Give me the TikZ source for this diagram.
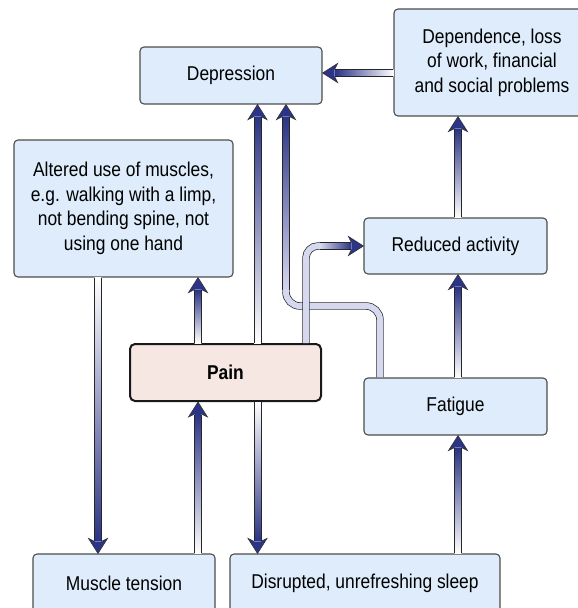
\documentclass[tikz,border=0pt]{standalone}
\usepackage{fontspec}
\setmainfont{Liberation Sans}[FakeStretch=0.87]
\usetikzlibrary{calc}
\definecolor{arrdark}{HTML}{2B3486}
\definecolor{arrpale}{HTML}{D6D8F0}
\definecolor{boxfill}{HTML}{DEECFB}
\definecolor{boxline}{HTML}{4D4D4D}
\definecolor{painfill}{HTML}{F6E7E3}

% half width of the arrow shafts
\newcommand{\hw}{3.4}
\tikzset{
  shaftline/.style={draw=black!85, line width=0.7pt},
  headline/.style={draw=black!80, line width=0.6pt, line join=miter},
  bentshaft/.style={draw=black!85, line width=0.7pt, double=arrpale, double distance=6pt, rounded corners=14pt}
}
\newcommand{\fathead}[2]{% rotation, tip
  \fill[arrdark, shift={(#2)}, rotate=#1] (0,0) -- (-9.5,15) -- (-\hw,12) -- (\hw,12) -- (9.5,15) -- cycle;
  \draw[headline, shift={(#2)}, rotate=#1] (-\hw,12) -- (-9.5,15) -- (0,0) -- (9.5,15) -- (\hw,12);}
\newcommand{\uparr}[2]{% tail below, tip above
  \shade[top color=arrdark, bottom color=white] ($(#1)+(-\hw,0)$) rectangle ($(#2)+(\hw,12.5)$);
  \draw[shaftline] ($(#1)+(-\hw,0)$) -- ($(#2)+(-\hw,12.5)$) ($(#1)+(\hw,0)$) -- ($(#2)+(\hw,12.5)$);
  \fathead{0}{#2}}
\newcommand{\downarr}[2]{% tail above, tip below
  \shade[top color=white, bottom color=arrdark] ($(#1)+(-\hw,0)$) rectangle ($(#2)+(\hw,-12.5)$);
  \draw[shaftline] ($(#1)+(-\hw,0)$) -- ($(#2)+(-\hw,-12.5)$) ($(#1)+(\hw,0)$) -- ($(#2)+(\hw,-12.5)$);
  \fathead{180}{#2}}
\newcommand{\leftarr}[2]{% tail right, tip left
  \shade[left color=arrdark, right color=white] ($(#2)+(12.5,-\hw)$) rectangle ($(#1)+(0,\hw)$);
  \draw[shaftline] ($(#2)+(12.5,-\hw)$) -- ($(#1)+(0,-\hw)$) ($(#2)+(12.5,\hw)$) -- ($(#1)+(0,\hw)$);
  \fathead{90}{#2}}

\begin{document}
\begin{tikzpicture}[
  x=1pt, y=-1pt,
  box/.style={draw=boxline, line width=1.1pt, fill=boxfill, rounded corners=4pt, align=center,
    inner sep=0pt, font=\fontsize{20}{24.5}\selectfont},
  painbox/.style={box, draw=black!90, line width=2pt, fill=painfill, rounded corners=5pt,
    font=\fontsize{20}{24.5}\selectfont\bfseries}
]
\useasboundingbox (0,0) rectangle (578,608);
\clip (0,0) rectangle (578,608);
% boxes
\node[box, minimum width=182pt, minimum height=57pt] (dep) at (231,75.5) {Depression};
\node[box, minimum width=196pt, minimum height=107pt] (depend) at (492,62.5) {Dependence, loss\\of work, financial\\and social problems};
\node[box, minimum width=219pt, minimum height=137pt] (alt) at (123.5,208.5) {Altered use of muscles,\\e.g. walking with a limp,\\not bending spine, not\\using one hand};
\node[box, minimum width=183pt, minimum height=56pt] (red) at (455.5,246) {Reduced activity};
\node[painbox, minimum width=191pt, minimum height=57pt] (pain) at (225.5,372.5) {Pain};
\node[box, minimum width=183pt, minimum height=57pt] (fat) at (455.5,406.5) {Fatigue};
\node[box, minimum width=182pt, minimum height=58pt] (mus) at (124,583) {Muscle tension};
\node[box, minimum width=270pt, minimum height=58pt] (sleep) at (365,583) {Disrupted, unrefreshing sleep};
% arrow columns and rows
\coordinate (cA) at (98,0);
\coordinate (cB) at (198,0);
\coordinate (cC) at (257.5,0);
\coordinate (cD) at (286,0);
\coordinate (cE) at (306,0);
\coordinate (cG) at (380,0);
\coordinate (cF) at (458,0);
\coordinate (rA) at (0,73);
\coordinate (rB) at (0,306);
% straight arrows
\downarr{alt.south -| cA}{mus.north -| cA}
\uparr{mus.north -| cB}{pain.south -| cB}
\uparr{pain.north -| cB}{alt.south -| cB}
\uparr{pain.north -| cC}{dep.south -| cC}
\downarr{pain.south -| cC}{sleep.north -| cC}
\uparr{sleep.north -| cF}{fat.south -| cF}
\uparr{fat.north -| cF}{red.south -| cF}
\uparr{red.north -| cF}{depend.south -| cF}
\leftarr{depend.west |- rA}{dep.east |- rA}
% fatigue to depression, bent
\draw[bentshaft] (fat.north -| cG) -- (cG |- rB) -- (cD |- rB) -- ($(dep.south -| cD)+(0,12.5)$);
\shade[top color=arrdark, bottom color=arrpale] ($(dep.south -| cD)+(-\hw,12.5)$) rectangle ($(cD |- rB)+(\hw,-16)$);
\draw[shaftline] ($(dep.south -| cD)+(-\hw,12.5)$) -- ($(cD |- rB)+(-\hw,-16)$) ($(dep.south -| cD)+(\hw,12.5)$) -- ($(cD |- rB)+(\hw,-16)$);
\fathead{0}{dep.south -| cD}
% pain to reduced activity, bent
\draw[bentshaft, rounded corners=12pt] (pain.north -| cE) -- (cE |- red.west) -- ($(red.west)+(-12.5,0)$);
\shade[left color=arrpale, right color=arrdark] ($(cE |- red.west)+(14,-\hw)$) rectangle ($(red.west)+(-12.5,\hw)$);
\draw[shaftline] ($(cE |- red.west)+(14,-\hw)$) -- ($(red.west)+(-12.5,-\hw)$) ($(cE |- red.west)+(14,\hw)$) -- ($(red.west)+(-12.5,\hw)$);
\fathead{-90}{red.west}
\end{tikzpicture}
\end{document}
